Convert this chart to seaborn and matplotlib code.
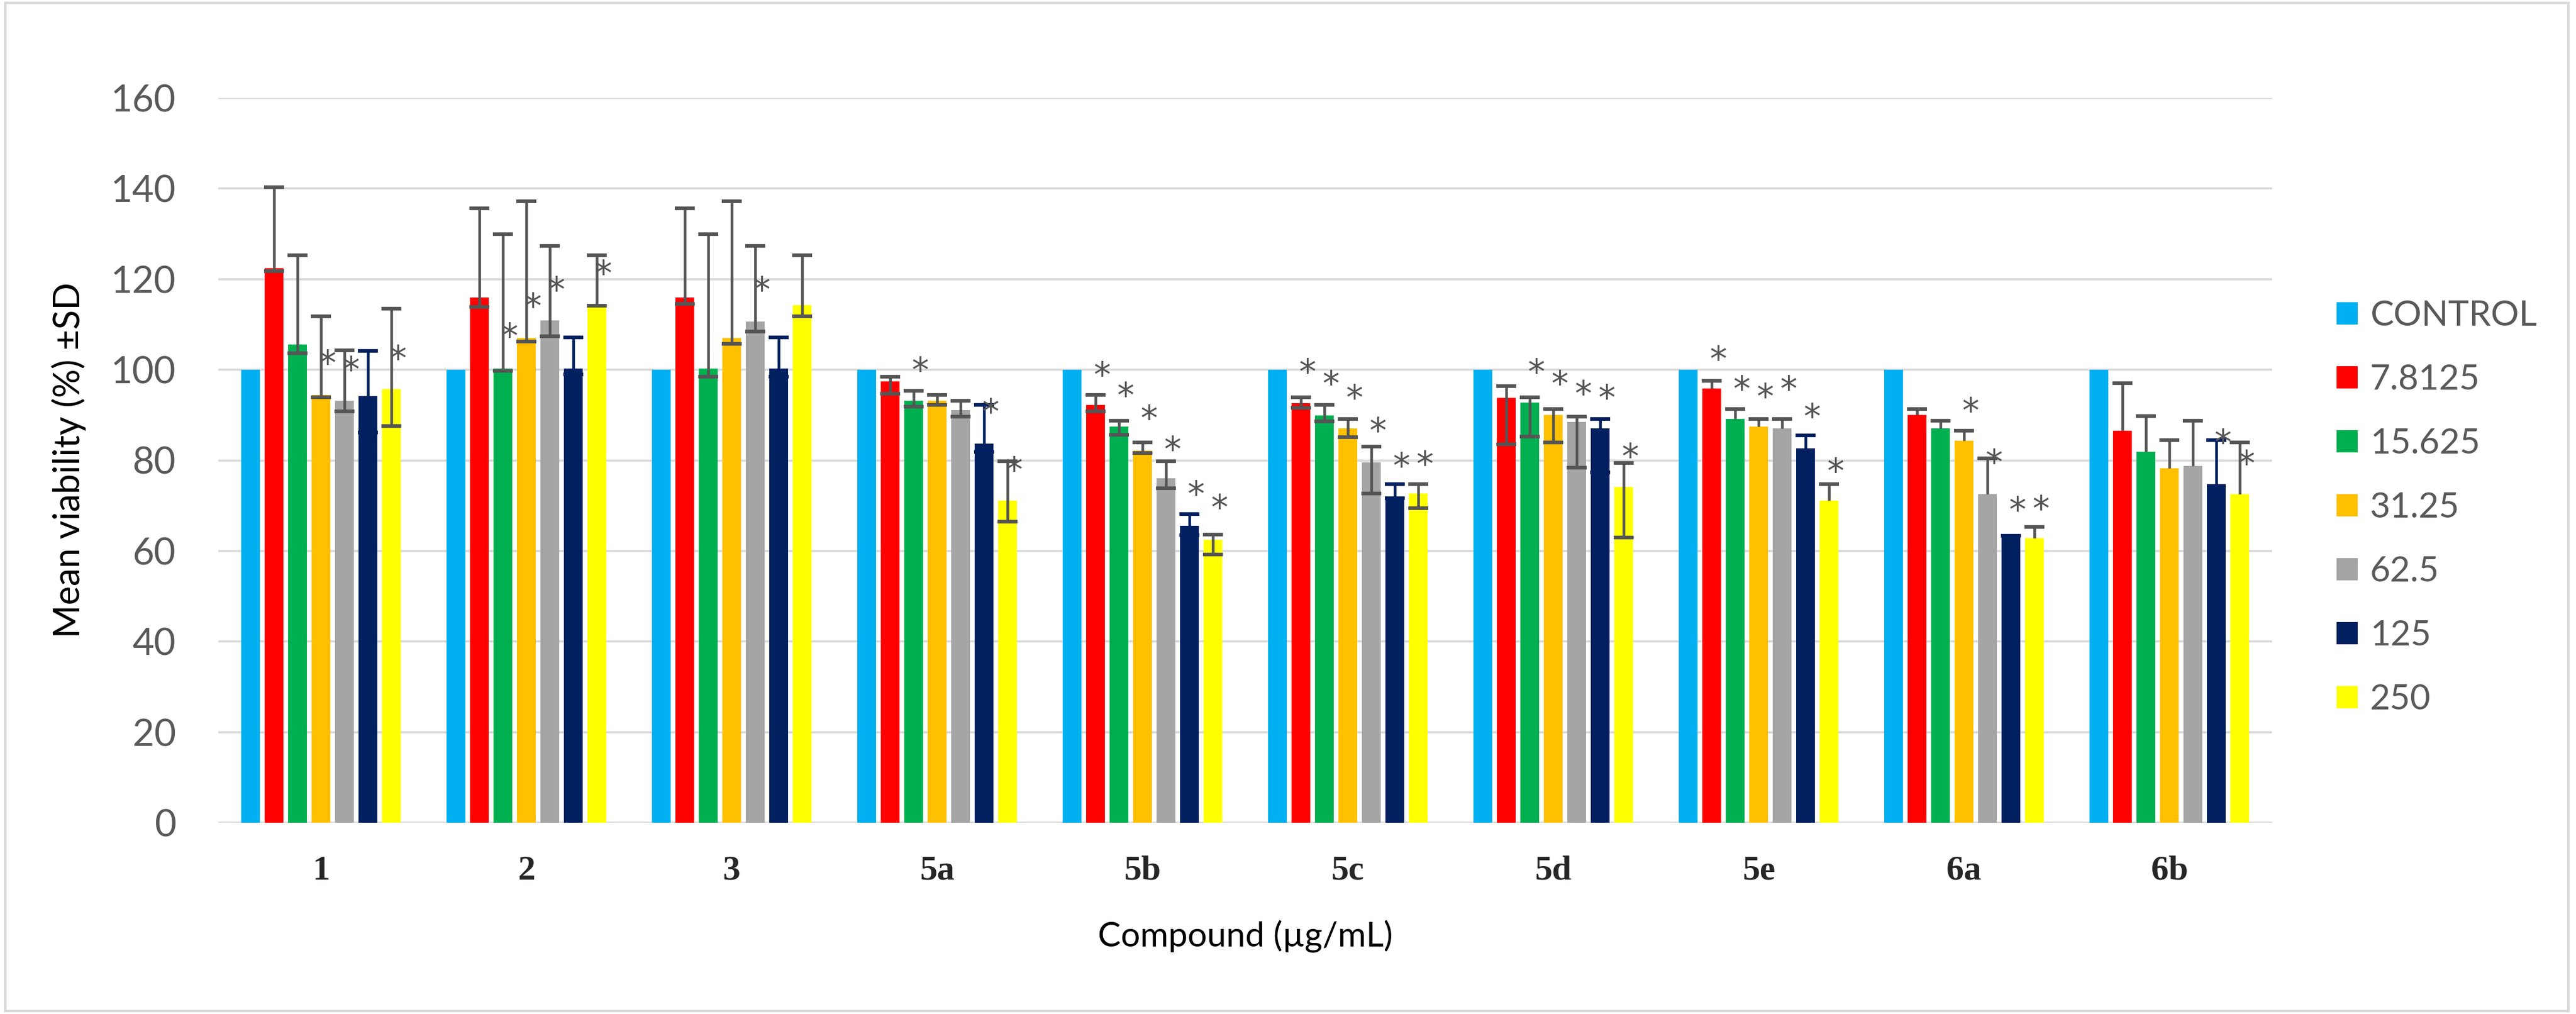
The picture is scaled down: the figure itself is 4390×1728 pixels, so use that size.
import numpy as np
import pandas as pd
import matplotlib
matplotlib.use("Agg")
import matplotlib.pyplot as plt
from matplotlib.patches import Rectangle
from matplotlib.colors import to_rgb
import seaborn as sns

nan = np.nan

compounds = ['1', '2', '3', '5a', '5b', '5c', '5d', '5e', '6a', '6b']
concentrations = ['CONTROL', '7.8125', '15.625', '31.25', '62.5', '125', '250']

# mean viability (%)
control = [100, 100, 100, 100, 100, 100, 100, 100, 100, 100]
c7_8125 = [122.4, 115.9, 115.9, 97.4, 92.2, 92.6, 93.8, 95.9, 90.1, 86.5]
c15_625 = [105.6, 100.3, 100.3, 93.1, 87.5, 89.9, 92.8, 89.1, 87.0, 81.9]
c31_25 = [94.5, 107.0, 107.0, 93.1, 82.2, 87.0, 90.1, 87.5, 84.4, 78.3]
c62_5 = [93.1, 110.9, 110.7, 91.1, 76.1, 79.6, 88.5, 87.0, 72.5, 78.8]
c125 = [94.2, 100.3, 100.3, 83.7, 65.6, 72.0, 87.0, 82.7, 63.2, 74.7]
c250 = [95.7, 114.1, 114.3, 71.1, 62.5, 72.7, 74.1, 71.1, 62.8, 72.6]

# upper end of the SD bar
hi_7_8125 = [140.3, 135.7, 135.7, 98.5, 94.4, 93.9, 96.4, 97.5, 91.3, 97.0]
hi_15_625 = [125.3, 129.9, 129.9, 95.4, 88.8, 92.3, 93.9, 91.3, 88.8, 89.8]
hi_31_25 = [111.8, 137.2, 137.2, 94.4, 83.9, 89.1, 91.3, 89.1, 86.6, 84.5]
hi_62_5 = [104.3, 127.4, 127.4, 93.2, 79.8, 83.0, 89.7, 89.1, 80.4, 88.8]
hi_125 = [104.1, 107.2, 107.2, 92.3, 68.1, 74.8, 89.1, 85.5, 63.4, 84.5]
hi_250 = [113.5, 125.3, 125.3, 79.8, 63.6, 74.8, 79.4, 74.7, 65.3, 84.0]

# lower end of the SD bar (nan = no lower bar shown)
lo_7_8125 = [121.8, 113.9, 114.5, 94.7, 90.8, 91.6, 83.6, nan, nan, nan]
lo_15_625 = [103.6, 99.7, 98.5, 91.8, 85.7, 88.6, 85.2, nan, nan, nan]
lo_31_25 = [93.9, 106.2, 105.7, 92.3, 81.6, 85.1, 84.0, nan, nan, nan]
lo_62_5 = [90.8, 107.4, 108.4, 89.6, 73.8, 72.7, 78.4, nan, nan, nan]
lo_125 = [86.2, 99.0, 98.5, 81.9, 63.5, 71.7, 77.4, nan, nan, nan]
lo_250 = [87.6, 114.1, 111.8, 66.4, 59.2, 69.5, 63.0, nan, nan, nan]

# significance asterisks (height in %, nan = none)
st_7_8125 = [nan, nan, nan, nan, 101.0, 101.6, nan, 104.4, nan, nan]
st_15_625 = [nan, 109.5, nan, 102.0, 96.4, 99.0, 101.6, 97.8, nan, nan]
st_31_25 = [103.6, 116.1, nan, nan, 91.3, 95.9, 99.0, 96.2, 93.1, nan]
st_62_5 = [102.1, 119.7, 119.7, nan, 84.5, 88.6, 96.8, 97.8, 81.6, nan]
st_125 = [nan, nan, nan, 92.8, 74.7, 80.9, 95.9, 91.8, 71.1, 86.0]
st_250 = [104.6, 123.4, nan, 79.9, 71.7, 81.3, 82.9, 79.7, 71.4, 81.4]

means = [control, c7_8125, c15_625, c31_25, c62_5, c125, c250]
his = [None, hi_7_8125, hi_15_625, hi_31_25, hi_62_5, hi_125, hi_250]
los = [None, lo_7_8125, lo_15_625, lo_31_25, lo_62_5, lo_125, lo_250]
stars = [None, st_7_8125, st_15_625, st_31_25, st_62_5, st_125, st_250]

colors = ['#00B0F0', '#FF0000', '#00B050', '#FFC000', '#A5A5A5', '#002060', '#FFFF00']
err_colors = [None, '#555555', '#555555', '#555555', '#555555', '#002060', '#555555']

rows = []
for conc, vals in zip(concentrations, means):
    for comp, v in zip(compounds, vals):
        rows.append({'Compound': comp, 'Concentration': conc, 'Viability': v})
df = pd.DataFrame(rows)

sns.set_style('white')
plt.rcParams['font.family'] = ['Lato', 'DejaVu Sans']

W, H = 4390, 1728
fig = plt.figure(figsize=(W / 100, H / 100), dpi=100)
ax = fig.add_axes([372 / W, 1 - 1402 / H, 3500 / W, 1235 / H])

sns.barplot(data=df, x='Compound', y='Viability', hue='Concentration',
            order=compounds, hue_order=concentrations, palette=colors,
            saturation=1, errorbar=None, width=0.8, gap=0.2, linewidth=0,
            ax=ax, zorder=2)

handles, labels = ax.get_legend_handles_labels()
if ax.get_legend() is not None:
    ax.get_legend().remove()

# group the drawn bars by colour -> x centres per concentration
bars_by_series = {j: [] for j in range(len(colors))}
for p in ax.patches:
    if not isinstance(p, Rectangle) or p.get_width() <= 0 or p.get_width() > 0.5:
        continue
    fc = np.array(p.get_facecolor()[:3])
    d = [np.abs(fc - np.array(to_rgb(c))).sum() for c in colors]
    j = int(np.argmin(d))
    if d[j] < 0.1:
        bars_by_series[j].append(p.get_x() + p.get_width() / 2)

# error bars and asterisks
star_dx = 0.03
for j in range(1, len(concentrations)):
    xs = np.array(sorted(bars_by_series[j]))
    m = np.array(means[j], dtype=float)
    hi = np.array(his[j], dtype=float)
    lo = np.array(los[j], dtype=float)
    if len(xs) != len(m):
        continue
    lo_eff = np.where(np.isnan(lo), m, lo)
    ec = err_colors[j]
    ax.errorbar(xs, m, yerr=[m - lo_eff, hi - m], fmt='none', ecolor=ec,
                elinewidth=3.3, capsize=0, zorder=4)
    ax.plot(xs, hi, linestyle='none', marker='_', markersize=25,
            markeredgewidth=4.5, color=ec, zorder=4)
    ok = ~np.isnan(lo)
    ax.plot(xs[ok], lo[ok], linestyle='none', marker='_', markersize=25,
            markeredgewidth=4.5, color=ec, zorder=4)
    st = np.array(stars[j], dtype=float)
    for x, s in zip(xs, st):
        if not np.isnan(s):
            ax.annotate('*', xy=(x + star_dx, s), xytext=(0, -0.62 * 42),
                        textcoords='offset points', ha='center', va='baseline',
                        fontsize=42, color='#555555', family='DejaVu Sans', zorder=5)

ax.set_ylim(0, 160)
ax.set_xlim(-0.5, len(compounds) - 0.5)
ax.set_yticks(np.arange(0, 161, 20))
ax.yaxis.grid(True, color='#D9D9D9', linewidth=2.6)
ax.xaxis.grid(False)
ax.set_axisbelow(True)
for sp in ax.spines.values():
    sp.set_visible(False)
ax.tick_params(axis='both', length=0)
ax.tick_params(axis='y', labelsize=46, labelcolor='#595959', pad=52)
ax.tick_params(axis='x', pad=40)
for lab in ax.get_xticklabels():
    lab.set_fontfamily(['Liberation Serif'])
    lab.set_fontweight('bold')
    lab.set_fontsize(43)
    lab.set_color('#262626')

ax.set_ylabel('Mean viability (%) ±SD', fontsize=44, color='#000000', labelpad=30)
ax.set_xlabel('Compound (µg/mL)', fontsize=42, color='#000000', labelpad=40)

leg = fig.legend(handles, labels, loc='center left', bbox_to_anchor=(3958 / W, 1 - 865 / H),
                 frameon=False, fontsize=43, handlelength=0.6, handleheight=0.6,
                 handletextpad=0.35, labelspacing=0.92, borderaxespad=0)
for t in leg.get_texts():
    t.set_color('#595959')

fig.patches.append(Rectangle((0.002, 0.003), 0.995, 0.994, transform=fig.transFigure,
                             fill=False, edgecolor='#D9D9D9', linewidth=3))

fig.savefig('out.png', dpi=100, facecolor='white')
